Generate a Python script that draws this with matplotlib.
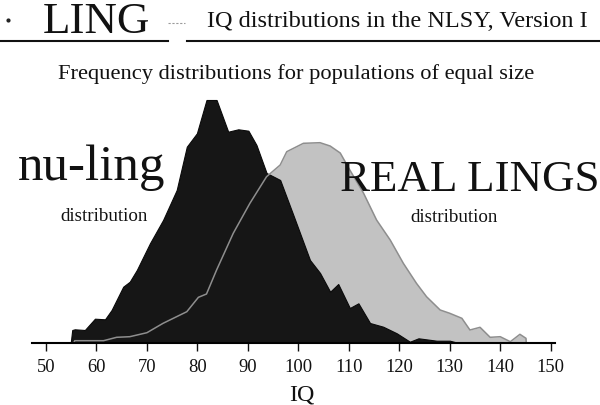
import matplotlib
matplotlib.use("Agg")
import matplotlib.pyplot as plt
from matplotlib.lines import Line2D

# ---- data (relative frequency, arbitrary units) ----
nuling_iq = [54.9, 55.2, 55.7, 57.7, 59.7, 61.7, 63.0, 65.3, 66.6, 68.0, 70.6, 73.2,
             75.9, 77.9, 79.9, 81.8, 83.8, 86.1, 88.1, 90.1, 91.7, 93.7, 96.4, 99.0,
             102.3, 104.3, 106.3, 107.9, 110.2, 111.9, 114.2, 116.8, 119.5, 122.1,
             123.8, 127.4, 130.0, 131.4, 136.0, 142.0, 142.5]
nuling_freq = [0, 1.30, 1.37, 1.30, 2.43, 2.37, 3.30, 5.63, 6.13, 7.30, 9.97, 12.30,
               15.30, 19.63, 20.97, 24.30, 24.30, 21.13, 21.37, 21.23, 19.80, 17.00,
               16.30, 12.80, 8.30, 7.00, 5.13, 5.90, 3.50, 3.97, 2.00, 1.63, 0.97,
               0.13, 0.47, 0.23, 0.23, 0.05, 0.05, 0.03, 0]

real_iq = [55.5, 55.7, 61.4, 64.0, 66.6, 70.0, 73.2, 77.9, 80.2, 81.8, 83.8, 87.1,
           90.4, 93.7, 96.4, 97.7, 101.0, 104.3, 106.3, 108.3, 110.2, 112.9, 115.5,
           118.2, 120.8, 123.4, 125.4, 128.1, 130.0, 132.4, 134.0, 136.0, 138.0,
           140.0, 142.0, 143.9, 145.1, 145.15]
real_freq = [0, 0.23, 0.23, 0.57, 0.63, 1.03, 1.97, 3.13, 4.57, 4.90, 7.30, 10.97,
             13.97, 16.63, 17.80, 19.13, 19.97, 20.03, 19.70, 19.00, 17.30, 15.00,
             12.30, 10.30, 7.97, 5.97, 4.63, 3.30, 2.97, 2.47, 1.30, 1.57, 0.57,
             0.63, 0.13, 0.87, 0.47, 0]

x_ticks = [50, 60, 70, 80, 90, 100, 110, 120, 130, 140, 150]

title_main = "IQ distributions in the NLSY, Version I"
subtitle = "Frequency distributions for populations of equal size"

# ---- figure ----
W, H = 600, 405
plt.rcParams['font.family'] = ['Liberation Serif', 'DejaVu Serif']
fig = plt.figure(figsize=(W / 100, H / 100), dpi=100)
fig.patch.set_facecolor('white')

def fx(x):
    return x / W

def fy(y):
    return 1 - y / H

def pt(px):
    return px * 0.72

ax = fig.add_axes([fx(31.7), fy(343), 523.3 / W, (343 - 60) / H])
ax.set_xlim(47.17, 150.85)
ax.set_ylim(0, 28.3)

ax.fill_between(real_iq, real_freq, 0, color='#c2c2c2', linewidth=0, zorder=1)
ax.fill_between(nuling_iq, nuling_freq, 0, color='#161616', edgecolor='#0a0a0a',
                linewidth=0.8, zorder=2)
ax.plot(real_iq, real_freq, color='#8e8e8e', linewidth=1.1, zorder=3)

for s in ['left', 'right', 'top']:
    ax.spines[s].set_visible(False)
ax.spines['bottom'].set_linewidth(1.5)
ax.spines['bottom'].set_zorder(4)
ax.set_yticks([])
ax.set_xticks(x_ticks)
ax.set_xticklabels([str(t) for t in x_ticks])
ax.tick_params(axis='x', direction='out', length=6, width=1.0, pad=5.5,
               labelsize=pt(18.5), colors='#111111')
ax.patch.set_alpha(0)

fig.text(fx(301.5), fy(400), "IQ", fontsize=pt(24), ha='center', va='baseline',
         color='#111111')

# header
fig.text(fx(43), fy(33), "LING", fontsize=pt(45), ha='left', va='baseline', color='#111111')
fig.text(fx(207), fy(26.7), title_main, fontsize=pt(24.2), ha='left', va='baseline',
         color='#111111')
fig.add_artist(Line2D([0, fx(168)], [fy(41), fy(41)], transform=fig.transFigure,
                      color='#111111', linewidth=1.5))
fig.add_artist(Line2D([fx(187), 1], [fy(41), fy(41)], transform=fig.transFigure,
                      color='#111111', linewidth=1.5))
fig.add_artist(Line2D([fx(168), fx(185)], [fy(22.5), fy(22.5)], transform=fig.transFigure,
                      color='#9a9a9a', linewidth=0.8, linestyle=(0, (2, 1.5))))
fig.add_artist(Line2D([fx(8)], [fy(20)], transform=fig.transFigure, marker='o',
                      markersize=2, color='#222222', linestyle='none'))

fig.text(fx(296), fy(79), subtitle, fontsize=pt(22.5), ha='center', va='baseline',
         color='#111111')

# labels on the chart
fig.text(fx(18), fy(180), "nu-ling", fontsize=pt(51), ha='left', va='baseline',
         color='#111111', zorder=5)
fig.text(fx(340), fy(191), "REAL LINGS", fontsize=pt(45), ha='left', va='baseline',
         color='#111111', zorder=5)
fig.text(fx(60), fy(221), "distribution", fontsize=pt(19), ha='left', va='baseline',
         color='#111111')
fig.text(fx(410), fy(222.5), "distribution", fontsize=pt(19), ha='left', va='baseline',
         color='#111111')

fig.savefig("out.png", dpi=100)
